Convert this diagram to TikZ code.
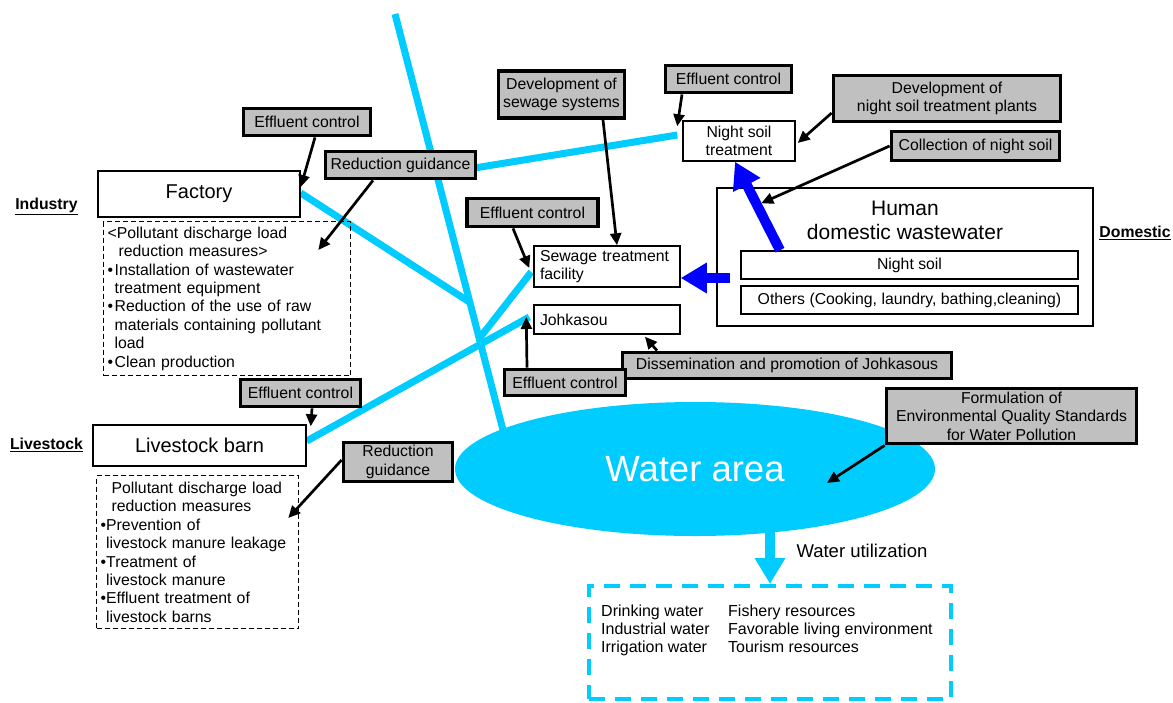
\documentclass[tikz,border=0pt]{standalone}
\usepackage{fontspec}
\setmainfont{Liberation Sans}
\usetikzlibrary{arrows.meta,shapes.geometric,calc,backgrounds}
\definecolor{WaterCyan}{RGB}{0,204,255}
\definecolor{CtrlGray}{RGB}{192,192,192}
\definecolor{FlowBlue}{RGB}{0,0,255}
\newcommand{\boxtext}{\fontsize{15.8}{18.4}\selectfont}
\newcommand{\bigtext}{\fontsize{20}{24}\selectfont}

\begin{document}
\begin{tikzpicture}[x=1pt,y=-1pt,
  ctrl/.style={draw,line width=3.8pt,fill=CtrlGray,align=center,inner sep=0pt,font=\boxtext},
  box/.style={draw,line width=1.5pt,fill=white,align=center,inner sep=0pt,font=\boxtext},
  lbox/.style={draw,line width=1.5pt,fill=white,align=left,inner xsep=6pt,inner ysep=0pt,font=\boxtext},
  measure/.style={draw,line width=1.3pt,dash pattern=on 5pt off 3pt,align=left,anchor=north west,
                  inner xsep=4pt,inner ysep=0pt,font=\boxtext},
  sector/.style={font=\boxtext\bfseries},
  river/.style={WaterCyan,line width=7pt},
  ptr/.style={line width=2.7pt,-{Triangle[length=12pt,width=11pt]}},
  flow/.style={FlowBlue,line width=10pt,-{Triangle[length=26pt,width=29pt]}},
  useflow/.style={WaterCyan,line width=10pt,-{Triangle[length=26pt,width=29pt]}},
]
\useasboundingbox (0,0) rectangle (1173,702);

\node[sector] (industry) at (46.5,206) {\underline{Industry}};
\node[sector] (livestock) at (46.5,445) {\underline{Livestock}};
\node[sector] (domestic) at (1135,233) {\underline{Domestic}};

\node[box,minimum width=202pt,minimum height=46pt,font=\bigtext] (factory) at (199,194) {Factory};
\node[measure,text width=239pt,minimum height=154pt] (indm) at (103,221)
  {<Pollutant discharge load\\
   \hspace*{11pt}reduction measures>\\
   \textbullet\hspace{1.5pt}Installation of wastewater\\
   \hspace*{7pt}treatment equipment\\
   \textbullet\hspace{1.5pt}Reduction of the use of raw\\
   \hspace*{7pt}materials containing pollutant\\
   \hspace*{7pt}load\\
   \textbullet\hspace{1.5pt}Clean production};
\node[ctrl,minimum width=127pt,minimum height=27pt] (ec1) at (307,122) {Effluent control};
\node[ctrl,minimum width=150pt,minimum height=27pt] (rg1) at (400.5,165) {Reduction guidance};

\node[box,minimum width=213pt,minimum height=41pt,font=\bigtext] (barn) at (199.5,445.5) {Livestock barn};
\node[measure,text width=194pt,minimum height=153pt] (livm) at (96,475)
  {\hspace*{11pt}Pollutant discharge load\\
   \hspace*{11pt}reduction measures\\
   \textbullet Prevention of\\
   \hspace*{5.5pt}livestock manure leakage\\
   \textbullet Treatment of\\
   \hspace*{5.5pt}livestock manure\\
   \textbullet Effluent treatment of\\
   \hspace*{5.5pt}livestock barns};
\node[ctrl,minimum width=120pt,minimum height=27pt] (ec5) at (300.5,393) {Effluent control};
\node[ctrl,minimum width=109pt,minimum height=39pt] (rg2) at (398,462) {Reduction\\guidance};

\node[ctrl,minimum width=126pt,minimum height=47pt] (dss) at (561.5,94.5) {Development of\\sewage systems};
\node[ctrl,minimum width=126pt,minimum height=27pt] (ec2) at (728.5,79) {Effluent control};
\node[box,minimum width=112pt,minimum height=40pt] (nst) at (739,141) {Night soil\\treatment};
\node[ctrl,minimum width=227pt,minimum height=46pt] (dnp) at (947,98.5) {Development of\\night soil treatment plants};
\node[ctrl,minimum width=168pt,minimum height=29pt] (cns) at (975.5,146) {Collection of night soil};

\node[box,minimum width=376pt,minimum height=138pt] (hdw) at (905,257) {};
\node[font=\fontsize{21}{24}\selectfont,align=center] (hdwtitle) at (905,220) {Human\\domestic wastewater};
\node[box,minimum width=337pt,minimum height=28pt] (ns) at (909.5,265) {Night soil};
\node[box,minimum width=337pt,minimum height=28pt] (oth) at (909.5,300) {Others (Cooking, laundry, bathing,cleaning)};

\node[ctrl,minimum width=131pt,minimum height=28pt] (ec3) at (532.5,212.5) {Effluent control};
\node[lbox,text width=134pt,minimum height=41pt] (stf) at (607,266.5) {Sewage treatment\\facility};
\node[lbox,text width=134pt,minimum height=29pt] (joh) at (607,319.5) {Johkasou};
\node[ctrl,minimum width=329pt,minimum height=26pt] (dis) at (787,365.5) {Dissemination and promotion of Johkasous};
\node[ctrl,minimum width=121pt,minimum height=26pt] (ec4) at (565,382.5) {Effluent control};

\node[ellipse,fill=WaterCyan,inner sep=0pt,minimum width=480pt,minimum height=134pt,
      text=white,font=\fontsize{36.5}{40}\selectfont] (water) at (695,469) {Water area};
\node[ctrl,minimum width=250pt,minimum height=55pt] (fqs) at (1011.5,416)
  {Formulation of\\Environmental Quality Standards\\for Water Pollution};

\node[anchor=west,font=\fontsize{18.5}{22}\selectfont] (wulabel) at (793,551) {Water utilization};
\node[draw=WaterCyan,line width=4pt,dash pattern=on 16pt off 10pt,
      minimum width=362pt,minimum height=113pt] (usebox) at (770,642.5) {};
\node[anchor=north west,inner sep=0pt,font=\fontsize{16}{18}\selectfont] (uselist) at (601,604)
  {\begin{tabular}{@{}p{127pt}@{}l@{}}
   Drinking water & Fishery resources\\
   Industrial water & Favorable living environment\\
   Irrigation water & Tourism resources
   \end{tabular}};

\begin{scope}[on background layer]
\coordinate (src) at (395,14);
\coordinate (sea) at (503,430);
\draw[river] (src) -- (sea);
\draw[river] ([yshift=1pt]factory.east) -- ($(src)!0.693!(sea)$);
\draw[river] ([xshift=-5pt,yshift=6pt]nst.west) -- ($(src)!0.385!(sea)$);
\draw[river] ([xshift=-2pt,yshift=-5.5pt]stf.west) -- ($(src)!0.78!(sea)$);
\draw[river] ([yshift=4.5pt]barn.east) -- ([xshift=-4pt,yshift=2.5pt]joh.west);
\end{scope}

\draw[ptr] ([xshift=8pt]ec1.south) -- ([yshift=7pt]factory.east);
\draw[ptr] ([xshift=-27.5pt]rg1.south) -- ([xshift=-33pt,yshift=-29pt]indm.north east);
\draw[ptr] ([xshift=11.5pt]ec5.south) -- ([xshift=4pt,yshift=-2pt]barn.north east);
\draw[ptr] ([yshift=2pt]rg2.west) -- ([xshift=-11pt,yshift=-43pt]livm.north east);
\draw[ptr] ([xshift=41.5pt]dss.south) -- ([xshift=10pt]stf.north);
\draw[ptr] ([xshift=-46.5pt]ec2.south) -- ([xshift=-5pt,yshift=-6pt]nst.north west);
\draw[ptr] ([yshift=-14.5pt]dnp.west) -- ([xshift=2pt,yshift=-2pt]nst.east);
\draw[ptr] (cns.west) -- ([xshift=45pt,yshift=-16pt]hdw.north west);
\draw[ptr] ([xshift=-19.5pt]ec3.south) -- ([xshift=-4pt,yshift=-1.5pt]stf.west);
\draw[ptr] ([xshift=-38pt]ec4.north) -- ([xshift=-7pt,yshift=2.5pt]joh.west);
\draw[ptr] ([xshift=-130pt]dis.north) -- ([xshift=38pt,yshift=-2pt]joh.south);
\draw[ptr] (fqs.south west) -- ([xshift=132pt,yshift=-14pt]water.center);

\coordinate (nsout) at ([xshift=-129.5pt]ns.north);
\coordinate (hdwout) at ([xshift=14pt,yshift=-21pt]hdw.west);
\draw[flow] (nsout) -- ([xshift=-4pt]nst.south);
\draw[flow] (hdwout) -- (hdwout -| stf.east);

\coordinate (wuse) at (770,528);
\draw[useflow] (wuse) -- (wuse |- usebox.north);
\end{tikzpicture}
\end{document}
